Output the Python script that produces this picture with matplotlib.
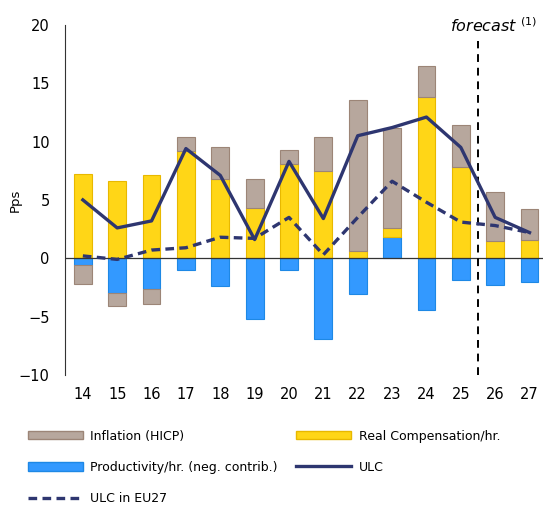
import numpy as np
import matplotlib
matplotlib.use("Agg")
import matplotlib.pyplot as plt
import matplotlib.patches as pat
from matplotlib.lines import Line2D

years = [14, 15, 16, 17, 18, 19, 20, 21, 22, 23, 24, 25, 26, 27]
productivity = [-0.6, -3.0, -2.6, -1.0, -2.4, -5.2, -1.0, -6.9, -3.1, 1.8, -4.4, -1.9, -2.3, -2.0]
real_comp = [7.2, 6.6, 7.1, 9.2, 6.8, 4.3, 8.1, 7.5, 0.6, 0.75, 13.8, 7.8, 1.5, 1.6]
inflation = [-1.65, -1.1, -1.3, 1.2, 2.7, 2.5, 1.2, 2.85, 13.0, 8.6, 2.65, 3.6, 4.15, 2.65]
ulc = [5.0, 2.6, 3.2, 9.4, 7.1, 1.6, 8.3, 3.4, 10.5, 11.2, 12.1, 9.5, 3.5, 2.2]
ulc_eu27 = [0.2, -0.1, 0.7, 0.9, 1.8, 1.7, 3.5, 0.3, 3.5, 6.6, 4.8, 3.1, 2.8, 2.2]

c_yellow = "#FFD617"
c_grey = "#B7A79D"
c_blue = "#3399FF"
c_navy = "#2E3670"

fig = plt.figure(figsize=(5.46, 5.08), dpi=100)
ax = fig.add_axes([0.119, 0.262, 0.876, 0.689])

x = np.array(years)
pos = np.zeros(len(x))
neg = np.zeros(len(x))
series = [
    (productivity, c_blue, "#1E88E5"),
    (real_comp, c_yellow, "#E8B800"),
    (inflation, c_grey, "#9C8577"),
]
for vals, col, edge in series:
    vals = np.array(vals)
    bottom = np.where(vals >= 0, pos, neg)
    ax.bar(x, vals, 0.52, bottom=bottom, color=col, edgecolor=edge, linewidth=0.8, zorder=2)
    pos = np.where(vals >= 0, pos + vals, pos)
    neg = np.where(vals < 0, neg + vals, neg)

ax.plot(x, ulc, color=c_navy, lw=2.4, zorder=4)
ax.plot(x, ulc_eu27, color=c_navy, lw=2.4, ls=(0, (2.6, 1.6)), zorder=4)

ax.axhline(0, color="#333333", lw=0.9, zorder=3)
ax.plot([25.5, 25.5], [-10, 18.6], color="black", lw=1.4, ls=(0, (4, 3)), zorder=3)
ax.text(25.95, 19.9, "forecast $^{(1)}$", style="italic", fontsize=11.5, ha="center", va="center")

ax.set_xlim(13.48, 27.4)
ax.set_ylim(-10, 20)
ax.set_yticks([-10, -5, 0, 5, 10, 15, 20])
ax.set_xticks(years)
ax.tick_params(length=0, labelsize=10.5)
ax.tick_params(axis="x", pad=9)
ax.tick_params(axis="y", pad=11)
for s in ["top", "right", "bottom"]:
    ax.spines[s].set_visible(False)
ax.spines["left"].set_color("#333333")
ax.set_ylabel("Pps", fontsize=9.5)
ax.yaxis.set_label_coords(-0.09, 0.5)

handles = [
    pat.Patch(facecolor=c_grey, edgecolor="#9C8577", label="Inflation (HICP)"),
    pat.Patch(facecolor=c_blue, edgecolor="#1E88E5", label="Productivity/hr. (neg. contrib.)"),
    Line2D([], [], color=c_navy, lw=2.4, ls=(0, (2.6, 1.6)), label="ULC in EU27"),
    pat.Patch(facecolor=c_yellow, edgecolor="#E8B800", label="Real Compensation/hr."),
    Line2D([], [], color=c_navy, lw=2.4, label="ULC"),
]
fig.legend(handles=handles, ncol=2, loc="lower left", bbox_to_anchor=(0.03, -0.016),
           frameon=False, fontsize=9, handlelength=4.4, handleheight=0.65,
           labelspacing=1.45, columnspacing=1.5, handletextpad=0.6)

fig.savefig("out.png", dpi=100)
